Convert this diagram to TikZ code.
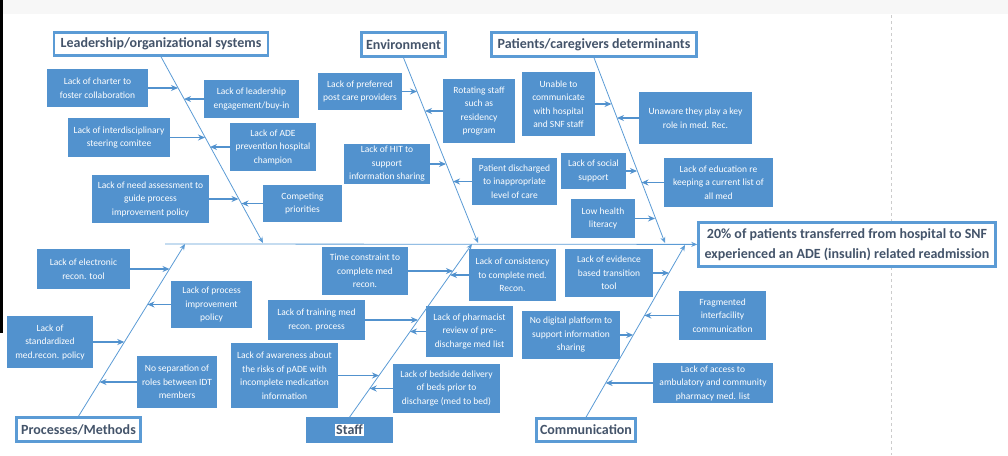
\documentclass[tikz,border=0pt]{standalone}
\usepackage{fontspec}
\setmainfont{Carlito}
\usetikzlibrary{arrows.meta}
\usetikzlibrary{backgrounds}

\definecolor{boxblue}{RGB}{82,146,206}
\definecolor{lineblue}{RGB}{91,155,213}
\definecolor{headtext}{RGB}{68,84,106}

\tikzset{
	cause/.style 2 args={rectangle, fill=boxblue, text=white, inner sep=0pt,
		font=\fontsize{9.5}{13.5}\selectfont, align=center,
		minimum width=#1pt, minimum height=#2pt},
	head/.style 2 args={rectangle, fill=white, draw=lineblue, line width=2.5pt,
		text=headtext, inner sep=0pt, font=\fontsize{14}{20}\selectfont\bfseries,
		align=center, minimum width=#1pt, minimum height=#2pt}
}

\begin{document}
\begin{tikzpicture}[x=1pt,y=-1pt]
	\useasboundingbox (0,0) rectangle (1008,455);
	\fill[gray!6] (0,0) rectangle (1008,14);
	\fill[black] (0,0) rectangle (3,333);
	\draw[black!20, dashed, line width=0.8pt] (891,15) -- (891,455);

	% categories and problem
	\begin{scope}
		\node[head={214}{23}] (lead) at (161,44) {Leadership/organizational systems};
		\node[head={84}{24}] (env) at (403.5,44.5) {Environment};
		\node[head={205}{24}] (pat) at (594,44.5) {Patients/caregivers determinants};
		\node[head={124}{24}] (proc) at (78.5,429.5) {Processes/Methods};
		\node[head={84}{23}, fill=boxblue, draw=boxblue] (staff) at (349.5,430)
			{\setlength{\fboxsep}{1pt}\colorbox{white}{Staff}};
		\node[head={99}{23}] (comm) at (586,430) {Communication};
		\node[head={297}{44}] (eff) at (847,244.5)
			{20\% of patients transferred from hospital to SNF\\experienced an ADE (insulin) related readmission};
	\end{scope}

	% causes
	\node[cause={101}{38}] (c1) at (97.5,88) {Lack of charter to\\foster collaboration};
	\node[cause={95}{38}] (c2) at (251.5,99) {Lack of leadership\\engagement/buy-in};
	\node[cause={102}{39}] (c3) at (119,137.5) {Lack of interdisciplinary\\steering comitee};
	\node[cause={86}{48}] (c4) at (273,147) {Lack of ADE\\prevention hospital\\champion};
	\node[cause={117}{48}] (c5) at (150.5,199) {Lack of need assessment to\\guide process\\improvement policy};
	\node[cause={79}{37}] (c6) at (302.5,203.5) {Competing\\priorities};

	\node[cause={84}{37}] (c7) at (360,91.5) {Lack of preferred\\post care providers};
	\node[cause={72}{64}] (c8) at (479,111) {Rotating staff\\such as\\residency\\program};
	\node[cause={86}{40}] (c9) at (387,164) {Lack of HIT to\\support\\information sharing};
	\node[cause={85}{47}] (c10) at (514.5,181.5) {Patient discharged\\to inappropriate\\level of care};

	\node[cause={73}{64}] (c11) at (558.5,104) {Unable to\\communicate\\with hospital\\and SNF staff};
	\node[cause={113}{52}] (c12) at (695.5,118) {Unaware they play a key\\role in med. Rec.};
	\node[cause={65}{36}] (c13) at (593.5,171) {Lack of social\\support};
	\node[cause={109}{49}] (c14) at (718.5,182.5) {Lack of education re\\keeping a current list of\\all med};
	\node[cause={64}{39}] (c15) at (603,218.5) {Low health\\literacy};

	\node[cause={93}{40}] (c16) at (83.5,269) {Lack of electronic\\recon. tool};
	\node[cause={81}{47}] (c17) at (211.5,304.5) {Lack of process\\improvement\\policy};
	\node[cause={86}{52}] (c18) at (50,342) {Lack of\\standardized\\med.recon. policy};
	\node[cause={80}{52}] (c19) at (177,382) {No separation of\\roles between IDT\\members};

	\node[cause={86}{48}] (c20) at (365,271) {Time constraint to\\complete med\\recon.};
	\node[cause={87}{52}] (c21) at (512.5,275) {Lack of consistency\\to complete med.\\Recon.};
	\node[cause={97}{40}] (c22) at (316.5,320) {Lack of training med\\recon. process};
	\node[cause={87}{51}] (c23) at (469.5,331.5) {Lack of pharmacist\\review of pre-\\discharge med list};
	\node[cause={107}{65}] (c24) at (284.5,375.5) {Lack of awareness about\\the risks of pADE with\\incomplete medication\\information};
	\node[cause={107}{49}] (c25) at (446.5,388.5) {Lack of bedside delivery\\of beds prior to\\discharge (med to bed)};

	\node[cause={88}{48}] (c26) at (609,273) {Lack of evidence\\based transition\\tool};
	\node[cause={87}{49}] (c27) at (722.5,315.5) {Fragmented\\interfacility\\communication};
	\node[cause={98}{48}] (c28) at (571,335) {No digital platform to\\support information\\sharing};
	\node[cause={120}{40}] (c29) at (713,383) {Lack of access to\\ambulatory and community\\pharmacy med. list};

	% spine and bones
	\coordinate (sp0) at (165,244);
	\coordinate (lsp) at (263,243);
	\coordinate (esp) at (478,243);
	\coordinate (psp) at (665,243);
	\coordinate (msp) at (185,244);
	\coordinate (ssp) at (472,244);
	\coordinate (csp) at (685,245);

	% where the cause arrows meet the bones
	\coordinate (a1) at (178,88);
	\coordinate (a2) at (184,99);
	\coordinate (a3) at (205,137.5);
	\coordinate (a4) at (210,147);
	\coordinate (a5) at (238.5,199);
	\coordinate (a6) at (241.5,203.5);
	\coordinate (a7) at (417,91.5);
	\coordinate (a8) at (425,111);
	\coordinate (a9) at (446,164);
	\coordinate (a10) at (453,181.5);
	\coordinate (a11) at (611.5,104);
	\coordinate (a12) at (617,118);
	\coordinate (a13) at (637,171);
	\coordinate (a14) at (641.5,182.5);
	\coordinate (a15) at (655,218.5);
	\coordinate (a16) at (169.5,269);
	\coordinate (a17) at (147.5,304.5);
	\coordinate (a18) at (124.3,342);
	\coordinate (a19) at (99.5,382);
	\coordinate (a20) at (453,271);
	\coordinate (a21) at (450,275);
	\coordinate (a22) at (418,320);
	\coordinate (a23) at (410,331.5);
	\coordinate (a24) at (379,375.5);
	\coordinate (a25) at (369.7,388.5);
	\coordinate (a26) at (669,273);
	\coordinate (a27) at (644.4,315.5);
	\coordinate (a28) at (633.2,335);
	\coordinate (a29) at (605.6,383);

	\begin{scope}[>={Stealth[lineblue, length=6pt, width=5pt]},
	              every edge/.style={draw=lineblue, line width=0.8pt}]
		\path[->] (sp0) edge (eff);
		\path[->] (lead.south) edge (lsp);
		\path[->] (env.south) edge (esp);
		\path[->] (pat.south) edge (psp);
		\path[->] (proc.north) edge (msp);
		\path[->] (staff.north) edge (ssp);
		\path[->] (comm.north) edge (csp);
	\end{scope}

	\begin{scope}[>={Stealth[boxblue, length=7pt, width=6pt]},
	              every edge/.style={draw=boxblue, line width=1.4pt}]
		\foreach \i in {1,...,29}
			\path[->] (c\i) edge (a\i);
	\end{scope}
\end{tikzpicture}
\end{document}
